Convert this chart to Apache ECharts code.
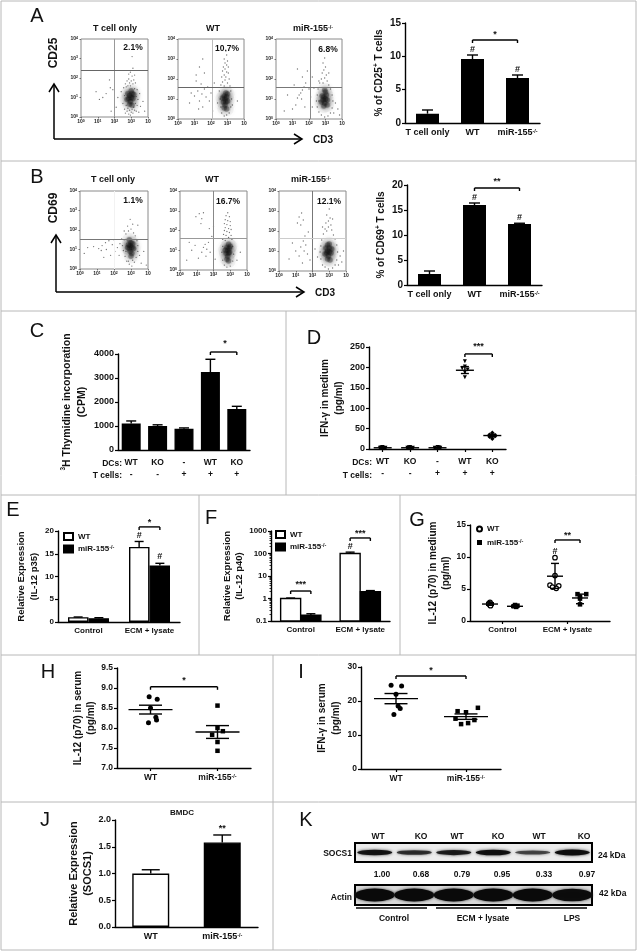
<!DOCTYPE html>
<html><head><meta charset="utf-8">
<style>html,body{margin:0;padding:0;background:#fff}#c{width:638px;height:952px;filter:blur(0.45px)}</style>
<script src="https://cdn.jsdelivr.net/npm/echarts@6/dist/echarts.min.js"></script>
</head><body><div id="c"></div>
<script>
// ---------- DATA ----------
const barCats = ['T cell only','WT','miR-155-/-'];
const pctCD25 = [1.4,9.6,6.75], pctCD25Hi = [1.95,10.2,7.2];
const pctCD69 = [2.2,16,12.2], pctCD69Hi = [2.8,16.4,12.35];
const dcs = ['WT','KO','-','WT','KO'], tcells = ['-','-','+','+','+'];
const thymidine = [1100,1000,890,3250,1710], thymidineHi = [1210,1050,920,3780,1820];
const ifnMedium = [[0,5],[-0.1,3],[0.1,3],[0.05,2],[-0.05,4],[1,5],[0.9,3],[1.1,3],[1.05,2],[0.95,4],[2,5],[1.9,3],[2.1,3],[2.05,4],[3,215],[3,202],[2.9,198],[3.1,195],[3,188],[3,176],[4,40],[3.9,35],[4.1,34],[4,31],[3.9,30],[4.1,32],[4,25]];
const ifnMediumMean = [[0,3,2,4],[1,3,2,4],[2,3,2,4],[3,193,185,202],[4,33,30,36]];
const groupCats = ['Control','ECM + lysate'];
const p35WT = [1.05,16.5], p35KO = [0.85,12.4], p35WTHi=[1.1,17.7], p35KOHi=[0.95,12.9];
const p40WT = [1,100], p40KO = [0.18,2], p40WTHi=[1.05,115], p40KOHi=[0.21,2.25];
const il12WT = [[1,2.9],[0.95,2.7],[1.05,2.65],[1,2.5],[1.02,2.4],[3.6,9.9],[3.6,7.1],[3.4,5.6],[3.75,5.5],[3.5,5.3],[3.65,5.1]];
const il12KO = [[2,2.5],[2.1,2.4],[1.95,2.3],[2.05,2.2],[4.5,4.2],[4.85,4.2],[4.6,3.8],[4.6,3.5],[4.6,2.6]];
const il12Means = [[1,2.65,2.45,2.85],[2,2.3,2.15,2.45],[3.6,7,5.1,9],[4.6,3.6,2.7,4.2]];
const il12Serum = [[-0.02,8.78],[0.1,8.72],[0,8.5],[0.08,8.27],[0.09,8.2],[-0.03,8.13]];
const il12SerumKO = [[1,8.56],[1,8.0],[1.08,7.92],[0.92,7.83],[1,7.65],[1,7.43]];
const il12SerumMeans = [[0,8.46,8.35,8.57],[1,7.9,7.74,8.06]];
const ifnSerum = [[-0.07,24.6],[0.08,24.4],[0,22],[0.03,18.5],[0.06,17.8],[-0.03,16]];
const ifnSerumKO = [[1.17,18],[0.88,17],[1,16.7],[0.85,14.8],[1.12,14.4],[1.03,13.5],[0.93,13.2]];
const ifnSerumMeans = [[0,20.7,19.2,22.2],[1,15.4,14.6,16.2]];
const socsCats = ['WT','miR-155-/-'], socs = [1.0,1.58], socsHi=[1.07,1.72];
const lanes = ['WT','KO','WT','KO','WT','KO'];
const quant = ['1.00','0.68','0.79','0.95','0.33','0.97'];
const socsBands = [0.85,0.55,0.75,0.9,0.35,0.95];
const actinBands = [1,1,1,1,1,0.95];
const flowTicks = ['10{s|0}','10{s|1}','10{s|2}','10{s|3}','10'];
const flowA1Core = [[2.9,1.1],[3,1],[2.85,0.95],[3.05,1.2],[2.95,0.8],[3.1,0.95],[2.8,1.2],[3,1.35],[2.9,0.65],[3.15,1.15],[2.75,0.9],[3.05,0.6]];
const flowA1 = [[2.4,1.3],[2.5,0.7],[2.55,1.5],[2.6,0.4],[2.6,1.1],[2.65,1.7],[2.65,0.2],[2.7,0.6],[2.7,1.55],[2.75,0.3],[2.75,1.85],[2.8,0.45],[2.8,1.6],[2.85,0.15],[2.85,1.95],[2.9,0.35],[2.9,1.75],[2.95,0.1],[2.95,1.6],[3,0.25],[3,1.85],[3.05,2.1],[3.05,0.4],[3.1,0.2],[3.1,1.7],[3.15,0.5],[3.15,1.9],[3.2,0.35],[3.2,1.45],[3.25,0.7],[3.25,1.75],[3.3,1.05],[3.3,0.3],[3.35,1.4],[3.35,0.6],[3.4,0.9],[3.45,0.25],[3.5,1.2],[3.55,0.55],[3.7,0.8],[3.8,0.3],[2.2,1],[2.1,0.5],[1.9,1.4],[1.7,1.9],[1.5,1.2],[1.3,1],[1.1,0.9],[0.9,1.3],[1.75,1.5],[2.95,2.3],[3.1,2.5],[3.05,3.1],[2.85,2.2],[3.2,2.15],[1.8,0.3]];
const flowA2Core = [[2.85,1],[2.9,0.85],[2.8,1.15],[2.95,1.1],[2.85,0.7],[3,0.9],[2.75,0.85],[2.9,1.3],[2.8,0.55],[3,1.25],[2.7,1.05],[2.95,0.5]];
const flowA2 = [[2.9,3.4],[2.95,3.2],[2.8,3],[3,2.9],[2.85,2.8],[2.95,2.7],[2.75,2.6],[3.05,2.6],[2.85,2.5],[2.7,2.4],[2.95,2.35],[3.05,2.3],[2.8,2.2],[2.9,2.1],[2.65,2.1],[3.1,2],[2.85,1.95],[2.7,1.85],[3,1.8],[2.6,1.7],[3.15,1.65],[2.8,1.65],[2.5,1.4],[3.2,1.4],[2.55,1],[3.25,1],[2.6,0.6],[3.2,0.6],[2.65,0.3],[3.1,0.3],[2.8,0.15],[2.95,0.2],[2.4,0.8],[3.3,0.7],[0.8,1.3],[1,1.15],[1.2,1.4],[1.3,0.9],[1.45,1.25],[1.5,0.6],[1.6,1.5],[1.7,1.1],[1.25,0.5],[0.7,0.8],[1.1,1.9],[1.4,1.75],[1.6,2.3],[1.3,2.6],[1.1,2.2],[1.8,1.6],[1.9,0.9],[2,1.3],[2.1,0.4],[2.2,1.8],[1.5,3],[3.6,0.9]];
const flowA3Core = [[2.9,1.1],[3,1],[2.85,0.95],[3.05,1.2],[2.95,0.8],[3.1,0.95],[2.8,1.15],[3,1.35],[2.9,0.65],[3.1,0.7],[2.75,0.85],[2.95,1.45]];
const flowA3 = [[2.95,3.05],[2.85,2.8],[3,2.6],[2.9,2.45],[2.8,2.3],[3.05,2.2],[2.95,2.05],[2.75,2],[3.1,1.9],[2.85,1.8],[2.65,1.8],[3.2,1.7],[2.55,1.5],[3.3,1.5],[2.5,1.2],[3.4,1.2],[2.45,0.9],[3.45,0.9],[2.5,0.6],[3.4,0.55],[2.6,0.35],[3.3,0.3],[2.75,0.2],[3.15,0.15],[2.95,0.1],[2.6,0.9],[3.5,0.3],[3.6,0.8],[3.75,0.5],[3.85,0.2],[2.6,1.9],[3.2,2.3],[1.8,1.8],[1.7,1.6],[1.6,1.45],[1.5,1.3],[1.4,1.2],[1.3,1.05],[1.55,1],[1.2,0.7],[1,0.5],[1.75,0.6],[1.6,2.1],[1.9,2.4],[1.3,2.5],[1.1,1.7],[2,1.5],[2.1,1.1],[2.2,0.6],[2.3,1.55],[0.7,1.2],[0.5,0.4],[2.2,2.1]];
const flowB1Core = [[2.95,1.2],[3.05,1.1],[2.9,1.05],[3,1.35],[2.85,1.25],[3.1,1.3],[2.95,0.9],[3.05,0.8],[2.9,1.5],[3.15,1.05],[3,0.65],[2.8,1.1]];
const flowB1 = [[2.95,2.55],[3.1,2.3],[2.8,2.2],[3,2.05],[2.85,1.95],[3.15,1.85],[2.7,1.8],[3.25,1.7],[2.6,1.5],[3.35,1.45],[2.5,1.2],[3.4,1.2],[2.55,0.95],[3.4,0.9],[2.65,0.65],[3.3,0.6],[2.75,0.4],[3.2,0.35],[2.9,0.25],[3.05,0.15],[2.85,0.4],[3.1,0.45],[2.7,0.9],[3.5,0.7],[3.6,0.3],[3.75,0.9],[3.9,0.2],[2.35,1.3],[2.2,1.1],[2.05,0.9],[1.9,1.25],[1.7,1.45],[1.55,1],[1.3,1.2],[1.1,1.05],[0.8,1.15],[0.45,1.1],[0.25,0.8],[1.4,0.6],[1.8,0.7],[2.3,0.7],[2,1.5],[2.6,1.95],[3.4,2.25],[1.5,1.35],[2.45,1.55],[1.25,0.95]];
const flowB2Core = [[2.85,1],[2.9,0.85],[2.8,1.15],[2.95,1.1],[2.85,0.7],[2.95,0.9],[2.75,0.85],[2.9,1.3],[2.8,0.55],[3,1.2],[2.7,1],[2.9,0.45]];
const flowB2 = [[2.85,2.9],[2.75,2.75],[2.95,2.7],[2.7,2.55],[2.85,2.5],[3,2.45],[2.65,2.35],[2.8,2.3],[3,2.25],[2.7,2.15],[2.9,2.1],[3.05,2.05],[2.65,2],[2.8,1.95],[2.95,1.9],[2.6,1.8],[2.75,1.75],[3.05,1.75],[2.9,1.65],[2.55,1.55],[3.1,1.55],[2.7,1.5],[2.55,1.2],[3.15,1.2],[2.5,0.9],[3.2,0.8],[2.55,0.5],[3.15,0.45],[2.65,0.25],[3,0.2],[2.8,0.15],[3.4,0.5],[3.6,0.9],[1.15,2.85],[1.3,2.6],[0.95,2.7],[1.25,2.35],[1.4,2.9],[1.5,1.3],[1.4,1.15],[1.6,1.05],[1.3,0.9],[1.7,1.4],[1.55,0.7],[1.1,0.6],[0.7,1],[0.55,1.4],[0.9,1.25],[1.9,1.7],[1.8,0.9],[2.1,0.55],[2,2.2],[0.4,0.5],[1.75,2.1]];
const flowB3Core = [[2.9,1],[3,0.95],[2.85,0.9],[3,1.15],[2.95,0.75],[3.1,0.9],[2.8,1.15],[3,1.35],[2.9,0.6],[3.15,1.1],[2.75,0.85],[3.05,0.55],[2.9,1.3]];
const flowB3 = [[3,3.1],[2.85,2.8],[3.05,2.65],[2.95,2.5],[2.8,2.4],[3.1,2.3],[2.95,2.2],[2.75,2.1],[3.15,2.05],[2.85,2],[2.65,1.85],[3.25,1.8],[2.55,1.55],[3.35,1.6],[2.5,1.25],[3.45,1.3],[2.45,0.95],[3.5,0.95],[2.5,0.6],[3.45,0.55],[2.6,0.3],[3.35,0.3],[2.75,0.2],[3.2,0.15],[2.95,0.1],[3.55,0.3],[3.65,0.75],[3.75,0.45],[3.85,1],[2.6,2.2],[3.2,2.6],[1.35,2.9],[1.2,2.7],[1.45,2.55],[1.1,2.4],[1.3,2.3],[1.55,1.75],[1.45,1.5],[1.6,1.3],[1.3,1.2],[1.5,1],[1.7,0.85],[1.2,0.75],[1,1],[0.8,1.4],[1.75,1.95],[1.85,0.55],[2,1.6],[2.15,1.1],[2.3,0.7],[0.6,0.6],[1.4,0.4]];

// ---------- LAYOUT HELPERS ----------
const F = 'Liberation Sans';
const sup = {a:{fontFamily:F,fontWeight:'bold',fontSize:9,color:'#111'},s:{fontFamily:F,fontWeight:'bold',fontSize:5.5,color:'#111',verticalAlign:'top',lineHeight:9}};
const grids=[], xAxes=[], yAxes=[], series=[];
function fmtKO(v){return v.indexOf('-/-')>0 ? '{a|miR-155}{s|-/-}' : '{a|'+v+'}';}
function addGrid(g,x,y){const i=grids.length;grids.push(g);xAxes.push(Object.assign({gridIndex:i},x));yAxes.push(Object.assign({gridIndex:i},y));return i;}
const axLine={onZero:false,lineStyle:{color:'#000',width:1.4}};
const tick={length:3,lineStyle:{color:'#000',width:1.2}};
function yAx(min,max,interval,name,gap,size,lh,extra){return Object.assign({type:'value',min,max,interval,splitLine:{show:false},axisLine:Object.assign({show:true},axLine),axisTick:Object.assign({show:true},tick),
  axisLabel:{color:'#111',fontFamily:F,fontWeight:'bold',fontSize:size||9,margin:4,formatter:v=>String(v)},name,nameLocation:'middle',nameGap:gap,
  nameTextStyle:{color:'#111',fontFamily:F,fontWeight:'bold',fontSize:10,lineHeight:lh||13,rich:{
    a:{fontFamily:F,fontWeight:'bold',fontSize:10,color:'#111'},s:{fontFamily:F,fontWeight:'bold',fontSize:6.5,color:'#111',verticalAlign:'top',lineHeight:10}}}},extra||{});}
function xCat(data,size,extra){return Object.assign({type:'category',data,axisLine:axLine,axisTick:Object.assign({alignWithLabel:true},tick),
  axisLabel:{interval:0,color:'#111',fontFamily:F,fontWeight:'bold',fontSize:size||9,margin:5,formatter:fmtKO,rich:{a:Object.assign({},sup.a,{fontSize:size||9}),s:sup.s}}},extra||{});}
function xVal(min,max,ticks,labels,size){return {type:'value',min,max,splitLine:{show:false},axisLine:axLine,
  axisTick:Object.assign({customValues:ticks},tick),axisLabel:{customValues:ticks,showMinLabel:true,showMaxLabel:true,margin:5,color:'#111',
  formatter:v=>fmtKO(labels[ticks.indexOf(v)]||''),rich:{a:Object.assign({},sup.a,{fontSize:size||9}),s:sup.s}}};}
function line(x1,y1,x2,y2,w){return {type:'line',shape:{x1,y1,x2,y2},style:{stroke:'#000',lineWidth:w||1.4}};}
function errSeries(g,rows,cap,meanHalf){
  series.push({type:'custom',xAxisIndex:g,yAxisIndex:g,clip:false,silent:true,z:4,data:rows.map(r=>[r[0],r[3]]),
    renderItem:(p,api)=>{const r=rows[p.dataIndex],b=api.size([1,0])[0],
      a=api.coord([r[0],r[2]]),h=api.coord([r[0],r[3]]),x=a[0]+r[1]*b,ch=[line(x,a[1],x,h[1]),line(x-cap,h[1],x+cap,h[1])];
      if(r[4]!=null){const m=api.coord([r[0],r[4]])[1];ch.push(line(x-cap,a[1],x+cap,a[1]),line(x-meanHalf,m,x+meanHalf,m));}
      return {type:'group',children:ch};}});
}
function bracket(g,rows){
  series.push({type:'custom',xAxisIndex:g,yAxisIndex:g,clip:false,silent:true,z:5,data:rows.map(r=>[r[0],r[3]]),
    renderItem:(p,api)=>{const r=rows[p.dataIndex],b=api.size([1,0])[0],c=api.coord([r[0],r[3]]),x1=c[0]+r[1]*b,x2=c[0]+r[2]*b,y=c[1];
      return {type:'group',children:[line(x1,y,x2,y),line(x1,y,x1,y+3),line(x2,y,x2,y+3)]};}});
}
function notes(g,rows){
  series.push({type:'custom',xAxisIndex:g,yAxisIndex:g,clip:false,silent:true,z:5,data:rows.map(r=>[r[0],r[2]]),
    renderItem:(p,api)=>{const r=rows[p.dataIndex],b=api.size([1,0])[0],c=api.coord([r[0],r[2]]);
      return {type:'text',x:c[0]+r[1]*b,y:c[1],style:{text:r[3],fill:'#111',align:'center',verticalAlign:'middle',font:'bold 9px "'+F+'"'}};}});
}
function bars(g,name,data,color,width,gap){
  series.push({type:'bar',name,xAxisIndex:g,yAxisIndex:g,data,barWidth:width,barGap:gap,itemStyle:{color,borderColor:'#000',borderWidth:1.4},z:3});
}
function logBars(g,name,data,color,width,frac,base){
  series.push({type:'custom',name,xAxisIndex:g,yAxisIndex:g,clip:false,silent:true,z:3,itemStyle:{color,borderColor:'#000',borderWidth:1.4},data:data.map((v,i)=>[i,v]),
    renderItem:(p,api)=>{const b=api.size([1,0])[0],t=api.coord([api.value(0),api.value(1)]),z=api.coord([api.value(0),base]),x=t[0]+frac*b-width/2;
      return {type:'rect',shape:{x,y:t[1],width,height:z[1]-t[1]},style:{fill:color,stroke:'#000',lineWidth:1.4}};}});
}
function dots(g,name,data,symbol,size,color,border){
  series.push({type:'scatter',name,xAxisIndex:g,yAxisIndex:g,data,symbol,symbolSize:size,itemStyle:{color:color||'#000',borderColor:border||'#000',borderWidth:border?1.2:0,opacity:1},z:3,silent:true});
}
function hiRows(hi,lo,frac){return hi.map((h,i)=>[i,frac||0,lo[i],h]);}

// ---------- FLOW PLOTS ----------
function flow(x,y,w,h,core,pts,vx,hy,vCol,hCol){
  const rich={s:{fontSize:3.5,fontFamily:F,fontWeight:'bold',color:'#222',verticalAlign:'top',lineHeight:6}};
  const g=addGrid({left:x,top:y,width:w,height:h,show:true,borderColor:'#8a8a8a',borderWidth:1,backgroundColor:'#fff'},
   {type:'value',min:0,max:4,interval:1,splitLine:{show:false},axisLine:{show:false},axisTick:{show:true,length:1.5,lineStyle:{color:'#555',width:0.8}},
    axisLabel:{margin:2,hideOverlap:false,showMinLabel:true,showMaxLabel:true,formatter:v=>flowTicks[v],color:'#222',fontFamily:F,fontWeight:'bold',fontSize:5,rich}},
   {type:'value',min:0,max:4,interval:1,splitLine:{show:false},axisLine:{show:false},axisTick:{show:true,length:1.5,lineStyle:{color:'#555',width:0.8}},
    axisLabel:{margin:3,hideOverlap:false,showMinLabel:true,showMaxLabel:true,formatter:v=>v===4?'10{s|4}':flowTicks[v],color:'#222',fontFamily:F,fontWeight:'bold',fontSize:5,rich}});
  series.push({type:'scatter',xAxisIndex:g,yAxisIndex:g,silent:true,data:core,symbolSize:14,itemStyle:{color:'#555',opacity:0.05,shadowBlur:4,shadowColor:'#555'},z:1});
  series.push({type:'scatter',xAxisIndex:g,yAxisIndex:g,silent:true,data:pts,symbolSize:1.3,itemStyle:{color:'#333',opacity:0.7},z:2,
    markLine:{silent:true,symbol:'none',animation:false,label:{show:false},data:[{xAxis:vx,lineStyle:{color:vCol,width:1,type:'solid'}},{yAxis:hy,lineStyle:{color:hCol,width:1,type:'solid'}}]}});
  series.push({type:'scatter',xAxisIndex:g,yAxisIndex:g,silent:true,data:core,symbolSize:5.5,itemStyle:{color:'#111',opacity:0.26,shadowBlur:2,shadowColor:'#111'},z:3});
}
flow(81,39,67,78,flowA1Core,flowA1,2,2.42,'#999','#666');
flow(178,39,66,80,flowA2Core,flowA2,2.05,1.6,'#bbb','#666');
flow(276,39,66,80,flowA3Core,flowA3,2.05,1.6,'#888','#777');
flow(80,191,68,78,flowB1Core,flowB1,2,1.55,'#f2f2f2','#777');
flow(180,191,67,79,flowB2Core,flowB2,2,1.6,'#888','#999');
flow(279,191,67,80,flowB3Core,flowB3,2,1.65,'#777','#ccc');

// ---------- A, B ----------
let g=addGrid({left:405,top:23,width:135,height:100},xCat(barCats,9),yAx(0,15,5,'{a|% of CD25}{s|+}{a| T cells}',16,10));
bars(g,'a',pctCD25,'#000',23);errSeries(g,hiRows(pctCD25Hi,pctCD25),5.5);
bracket(g,[[1,0,1,12.45]]);notes(g,[[1,0.5,13.3,'*'],[1,0,10.95,'#'],[2,0,7.95,'#']]);
g=addGrid({left:407,top:185,width:135,height:100},xCat(barCats,9),yAx(0,20,5,'{a|% of CD69}{s|+}{a| T cells}',15,10));
bars(g,'b',pctCD69,'#000',23);errSeries(g,hiRows(pctCD69Hi,pctCD69),5.5);
bracket(g,[[1,0,1,19.4]]);notes(g,[[1,0.5,20.7,'**'],[1,0,17.4,'#'],[2,0,13.4,'#']]);

// ---------- C, D ----------
const cdLabels={interval:0,margin:6,lineHeight:12.5,color:'#111',fontFamily:F,fontWeight:'bold',fontSize:8.5,formatter:v=>{const i=+v;return dcs[i]+'\n'+tcells[i];}};
g=addGrid({left:118,top:354,width:132,height:96},{type:'category',data:['0','1','2','3','4'],axisLine:axLine,axisTick:{show:false},axisLabel:cdLabels},yAx(0,4000,1000,'{s|3}{a|H Thymidine incorporation}\n{a|(CPM)}',24,9,15));
yAxes[g].nameTextStyle.rich.a.fontSize=10.5;
bars(g,'c',thymidine,'#000',19);errSeries(g,hiRows(thymidineHi,thymidine),5);
bracket(g,[[3,0,1,4083]]);notes(g,[[3,0.55,4430,'*']]);
g=addGrid({left:369,top:347,width:137,height:102},{type:'value',min:-0.5,max:4.5,splitLine:{show:false},axisLine:axLine,axisTick:{customValues:[0,1,2,3,4],length:3,lineStyle:{color:'#000',width:1.2}},
   axisLabel:{customValues:[0,1,2,3,4],showMinLabel:true,showMaxLabel:true,margin:6,lineHeight:12.5,color:'#111',fontFamily:F,fontWeight:'bold',fontSize:8.5,formatter:v=>dcs[v]+'\n'+tcells[v]}},yAx(0,250,50,'IFN-γ in medium\n(pg/ml)',18,9,14));
dots(g,'d1',ifnMedium.slice(0,20),'triangle',4);
series[series.length-1].symbolRotate=180;
dots(g,'d2',ifnMedium.slice(20),'diamond',4.5);
errSeries(g,ifnMediumMean.map(r=>[r[0],0,r[2],r[3],r[1]]),4,9);
bracket(g,[[3,0,1,233]]);notes(g,[[3,0.5,250,'***']]);

// ---------- E, F, G ----------
g=addGrid({left:58,top:531,width:122,height:91},xCat(groupCats,8),yAx(0,20,5,'Relative Expression\n(IL-12 p35)',16.5,8,13));
yAxes[g].nameTextStyle.fontSize=9.5;
bars(g,'WT',p35WT,'#fff',20.5,'0%');bars(g,'miR-155-/-',p35KO,'#000',20.5,'0%');
errSeries(g,hiRows(p35WTHi,p35WT,-0.17),4.5);errSeries(g,hiRows(p35KOHi,p35KO,0.17),4.5);
bracket(g,[[1,-0.17,0.17,20.9]]);notes(g,[[1,0,21.8,'*'],[1,-0.17,19.1,'#'],[1,0.17,14.5,'#']]);
g=addGrid({left:271,top:531,width:119,height:90},xCat(groupCats,8),yAx(0.1,1000,undefined,'Relative Expression\n(IL-12 p40)',19,8,12,{type:'log',logBase:10,minorTick:{show:true,splitNumber:9,length:1.5,lineStyle:{color:'#000',width:0.8}}}));
yAxes[g].nameTextStyle.fontSize=9.5;
logBars(g,'WT',p40WT,'#fff',20,-0.17,0.1);logBars(g,'miR-155-/-',p40KO,'#000',20,0.17,0.1);
errSeries(g,hiRows(p40WTHi,p40WT,-0.17),4.5);errSeries(g,hiRows(p40KOHi,p40KO,0.17),4.5);
bracket(g,[[0,-0.17,0.17,2.15],[1,-0.17,0.17,490]]);notes(g,[[0,0,3.98,'***'],[1,0,813,'***'],[1,-0.17,215,'#']]);
g=addGrid({left:470,top:525,width:140,height:96},xVal(0.2,5.8,[1.5,4.1],groupCats,8),yAx(0,15,5,'IL-12 (p70) in medium\n(pg/ml)',12.5,8.5,13));
dots(g,'WT ',il12WT,'circle',4.5,'#fff','#000');dots(g,'miR-155-/- ',il12KO,'rect',4.5);
errSeries(g,il12Means.map(r=>[r[0],0,r[2],r[3],r[1]]),4,8);
bracket(g,[[3.6,0,1,12.66]]);notes(g,[[3.6,0.5,13.4,'**'],[3.6,0,10.9,'#']]);

// ---------- H, I ----------
const fixed1={color:'#111',fontFamily:F,fontWeight:'bold',fontSize:8.5,margin:4,formatter:v=>v.toFixed(1)};
g=addGrid({left:117,top:668,width:134,height:100},xVal(-0.5,1.5,[0,1],['WT','miR-155-/-'],8.5),yAx(7,9.5,0.5,'IL-12 (p70) in serum\n(pg/ml)',19.5,8.5,13,{axisLabel:fixed1}));
dots(g,'h1',il12Serum,'circle',5);dots(g,'h2',il12SerumKO,'rect',4.5);
errSeries(g,il12SerumMeans.map(r=>[r[0],0,r[2],r[3],r[1]]),11.5,22);
bracket(g,[[0,0,1,9.03]]);notes(g,[[0,0.5,9.18,'*']]);
g=addGrid({left:361,top:667,width:140,height:102},xVal(-0.5,1.5,[0,1],['WT','miR-155-/-'],8.5),yAx(0,30,10,'IFN-γ in serum\n(pg/ml)',11,8.5,14));
dots(g,'i1',ifnSerum,'circle',5);dots(g,'i2',ifnSerumKO,'rect',4.5);
errSeries(g,ifnSerumMeans.map(r=>[r[0],0,r[2],r[3],r[1]]),11.5,22);
bracket(g,[[0,0,1,27.35]]);notes(g,[[0,0.5,29.1,'*']]);

// ---------- J ----------
g=addGrid({left:115,top:820,width:143,height:107},xCat(socsCats,9),yAx(0,2,0.5,'Relative Expression\n(SOCS1)',20,9,14,{axisLabel:Object.assign({},fixed1,{fontSize:9})}));
yAxes[g].nameTextStyle.fontSize=11;
series.push({type:'bar',xAxisIndex:g,yAxisIndex:g,barWidth:37,data:[{value:socs[0],itemStyle:{color:'#fff'}},{value:socs[1],itemStyle:{color:'#000'}}],itemStyle:{borderColor:'#000',borderWidth:1.4}});
errSeries(g,hiRows(socsHi,socs),9);notes(g,[[1,0,1.85,'**']]);

// ---------- K (blots) ----------
function blot(top,h,values,bh,bw,dark){
  const i=addGrid({left:355,top,width:237,height:h,show:true,borderColor:'#000',borderWidth:2,backgroundColor:dark},
    {type:'category',data:lanes.map((l,j)=>j+l),axisLine:{show:false},axisTick:{show:false},axisLabel:{show:false}},
    {type:'value',min:-1,max:1,axisLine:{show:false},axisTick:{show:false},axisLabel:{show:false},splitLine:{show:false}});
  series.push({type:'scatter',xAxisIndex:i,yAxisIndex:i,silent:true,symbol:'circle',
    data:values.map((v,j)=>({value:[j,0],symbolSize:[bw,bh*(0.5+v/2)],itemStyle:{color:'#0a0a0a',opacity:0.4+v*0.6,shadowBlur:3,shadowColor:'#333'}}))});
}
blot(843,19,socsBands,6,35,'#ececec');
blot(885,20,actinBands,13,40,'#d8d8d8');

// ---------- TEXT / FRAME ----------
const G=[];
function T(text,x,y,o){o=o||{};G.push({type:'text',x,y,rotation:o.rot||0,style:{text,fill:'#111',align:o.align||'center',verticalAlign:'middle',fontFamily:F,fontWeight:o.w||'bold',fontSize:o.s||9,rich:o.rich}});}
function L(x1,y1,x2,y2,c,w){G.push({type:'line',shape:{x1,y1,x2,y2},style:{stroke:c||'#b8b8b8',lineWidth:w||1}});}
function P(pts,w){G.push({type:'polyline',shape:{points:pts},style:{stroke:'#000',lineWidth:w||1.5,fill:null}});}
[[1,1,636,1],[1,1,1,950],[636,1,636,950],[1,950,636,950],[1,161,636,161],[1,311,636,311],[1,495,636,495],[1,655,636,655],[1,802,636,802],[286,311,286,495],[199,495,199,655],[400,495,400,655],[273,655,273,950]].forEach(l=>L(l[0],l[1],l[2],l[3]));
[['A',37,16],['B',37,177],['C',37,331],['D',314,338],['E',13,510],['F',211,518],['G',417,520],['H',48,672],['I',301,672],['J',45,820],['K',306,820]].forEach(l=>T(l[0],l[1],l[2],{w:'normal',s:20}));
const kor={a:Object.assign({},sup.a),s:sup.s};
[[115,29,'{a|T cell only}'],[213,29,'{a|WT}'],[313,29,'{a|miR-155}{s|-/-}'],[113,180,'{a|T cell only}'],[212,180,'{a|WT}'],[311,180,'{a|miR-155}{s|-/-}']].forEach(t=>T(t[2],t[0],t[1],{rich:kor}));
[['2.1%',133,48],['10.7%',227,49],['6.8%',328,50],['1.1%',133,201],['16.7%',228,202],['12.1%',329,202]].forEach(t=>T(t[0],t[1],t[2],{s:8.5}));
P([[54,139],[54,85]]);P([[49,92],[54,84],[59,92]]);P([[54,139],[302,139]]);P([[294,134],[302,139],[294,144]]);
P([[56,292],[56,236]]);P([[51,243],[56,235],[61,243]]);P([[56,292],[304,292]]);P([[296,287],[304,292],[296,297]]);
T('CD3',323,140,{s:10});T('CD3',325,293,{s:10});
T('CD25',54,53,{s:12,rot:Math.PI/2});T('CD69',54,208,{s:12,rot:Math.PI/2});
T('DCs:',122,464,{align:'right',s:8.5});T('T cells:',122,476,{align:'right',s:8.5});
T('DCs:',372,463,{align:'right',s:8.5});T('T cells:',372,476,{align:'right',s:8.5});
T('BMDC',182,813,{s:8});
[378,421,457,498,539,584].forEach((x,i)=>T(lanes[i],x,837,{s:8.5}));
[382,421,462,502,544,587].forEach((x,i)=>T(quant[i],x,875,{s:8.5}));
T('SOCS1',352,854,{align:'right',s:8.5});T('Actin',352,898,{align:'right',s:8.5});
T('24 kDa',598,856,{align:'left',s:8.5});T('42 kDa',599,894,{align:'left',s:8.5});
[[356,427,'Control',394],[436,507,'ECM + lysate',483],[516,587,'LPS',572]].forEach(u=>{L(u[0],908,u[1],908,'#000',1.5);T(u[2],u[3],919,{s:8.5});});

function lg(left,top,names,w,h,gap){return {left,top,orient:'vertical',data:names,itemWidth:w,itemHeight:h,itemGap:gap,padding:0,selectedMode:false,
  formatter:fmtKO,textStyle:{rich:{a:Object.assign({},sup.a,{fontSize:8}),s:sup.s}}};}
const rectNames=[{name:'WT',icon:'rect'},{name:'miR-155-/-',icon:'rect'}];
const chart=echarts.init(document.getElementById('c'),null,{width:638,height:952});
chart.setOption({animation:false,backgroundColor:'#fff',textStyle:{fontFamily:F},grid:grids,xAxis:xAxes,yAxis:yAxes,series,graphic:G,
  legend:[lg(63,532,rectNames,9,7,3.5),lg(275,530,rectNames,9,7,3.5),lg(476,525,[{name:'WT ',icon:'circle'},{name:'miR-155-/- ',icon:'rect'}],5,5,5)]});
</script></body></html>
